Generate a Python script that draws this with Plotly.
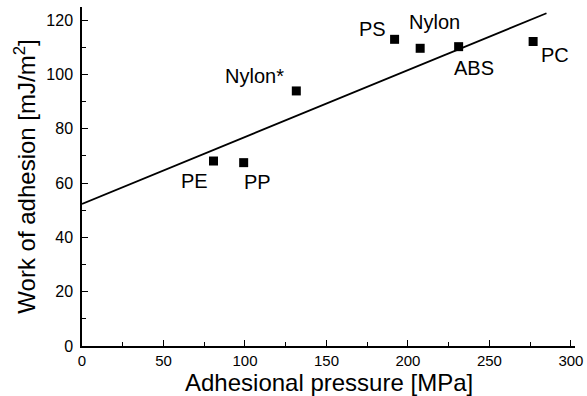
import plotly.graph_objects as go

materials = ["PE", "PP", "Nylon*", "PS", "Nylon", "ABS", "PC"]
pressure = [80.7, 99.2, 131.5, 191.8, 207.5, 231.1, 276.8]
adhesion = [68.1, 67.5, 93.9, 112.9, 109.6, 110.2, 112.1]

fit_x = [0, 285]
fit_y = [52.3, 122.5]

# label offsets in screen pixels (x right, y up)
label_dx = [-19, 14, -42, -22, 14, 15, 22]
label_dy = [-20, -19, 15, 10, 26, -21, -13]

x_title = "Adhesional pressure [MPa]"
y_title = "Work of adhesion [mJ/m<sup>2</sup>]"

font_family = "Liberation Sans, Arial, Helvetica, sans-serif"

fig = go.Figure()
fig.add_trace(go.Scatter(x=fit_x, y=fit_y, mode="lines",
                         line=dict(color="black", width=1.8), showlegend=False))
fig.add_trace(go.Scatter(x=pressure, y=adhesion, mode="markers",
                         marker=dict(symbol="square", size=9, color="black"),
                         showlegend=False))

for m, x, y, dx, dy in zip(materials, pressure, adhesion, label_dx, label_dy):
    fig.add_annotation(x=x, y=y, text=m, showarrow=False, xshift=dx, yshift=dy,
                       font=dict(family=font_family, size=20, color="black"))

fig.add_annotation(x=0.5, y=0, xref="paper", yref="paper", text=x_title,
                   showarrow=False, yanchor="top", xanchor="center", yshift=-21,
                   font=dict(family=font_family, size=24, color="black"))

fig.update_layout(
    width=587, height=396,
    margin=dict(l=82, r=12, t=7, b=50),
    plot_bgcolor="white", paper_bgcolor="white",
    font=dict(family=font_family, color="black"),
)
fig.update_xaxes(
    range=[0, 302.5], tickvals=[0, 50, 100, 150, 200, 250, 300],
    ticks="inside", ticklen=6, tickwidth=1.2, tickcolor="black",
    minor=dict(ticks="inside", dtick=25, ticklen=4, tickcolor="black", tickwidth=1),
    showline=True, linecolor="black", linewidth=1.5, showgrid=False, zeroline=False,
    tickfont=dict(size=15), automargin=False,
)
fig.update_yaxes(
    range=[0, 124.8], tickvals=[0, 20, 40, 60, 80, 100, 120],
    ticks="inside", ticklen=6, tickwidth=1.2, tickcolor="black",
    minor=dict(ticks="inside", dtick=10, ticklen=4, tickcolor="black", tickwidth=1),
    showline=True, linecolor="black", linewidth=1.5, showgrid=False, zeroline=False,
    tickfont=dict(size=16), automargin=False, ticklabelstandoff=4,
    title=dict(text=y_title, font=dict(size=24), standoff=4),
)

fig.write_html("out.html", post_script="document.body.style.margin='0';",
               config={"displayModeBar": False})
